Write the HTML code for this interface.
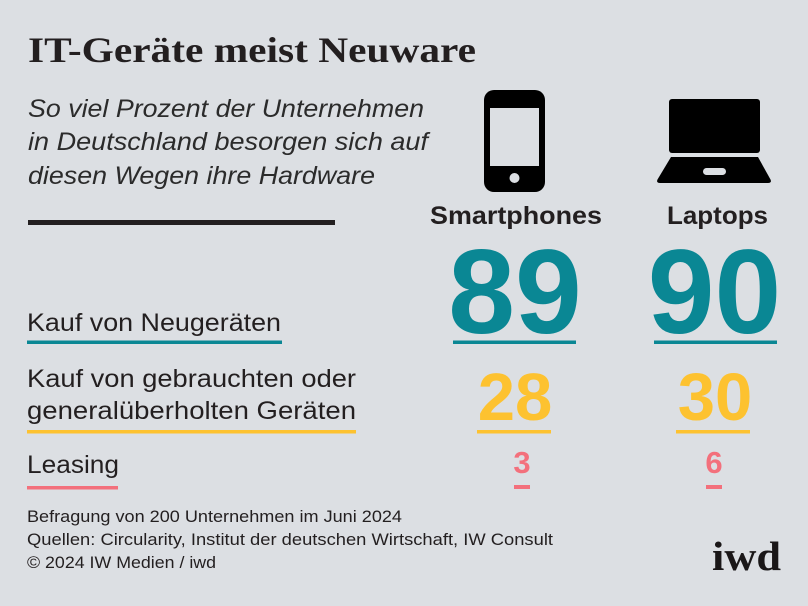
<!DOCTYPE html>
<html>
<head>
<meta charset="utf-8">
<style>
html,body{margin:0;padding:0;background:#dcdfe3;}
svg{display:block;}
</style>
</head>
<body>
<svg width="808" height="606" viewBox="0 0 808 606" xmlns="http://www.w3.org/2000/svg">
<rect x="0" y="0" width="808" height="606" fill="#dcdfe3"/>

<!-- Title -->
<text x="28" y="62" font-family="Liberation Serif, serif" font-weight="bold" font-size="36" fill="#231f20" textLength="448" lengthAdjust="spacingAndGlyphs">IT-Geräte meist Neuware</text>

<!-- Subtitle -->
<g font-family="Liberation Sans, sans-serif" font-style="italic" font-size="25" fill="#2b2b2b">
<text x="28" y="117" textLength="396" lengthAdjust="spacingAndGlyphs">So viel Prozent der Unternehmen</text>
<text x="28" y="150" textLength="400" lengthAdjust="spacingAndGlyphs">in Deutschland besorgen sich auf</text>
<text x="28" y="184" textLength="347" lengthAdjust="spacingAndGlyphs">diesen Wegen ihre Hardware</text>
</g>

<!-- Black rule -->
<rect x="28" y="220" width="307" height="5" fill="#231f20"/>

<!-- Phone icon -->
<rect x="484" y="90" width="61" height="102" rx="10" ry="10" fill="#000"/>
<rect x="490" y="108" width="49" height="58" fill="#dcdfe3"/>
<circle cx="514.5" cy="178" r="5" fill="#dcdfe3"/>

<!-- Laptop icon -->
<rect x="669" y="99" width="91" height="54" rx="3" ry="3" fill="#000"/>
<path d="M671,157 L758,157 L770.5,179.5 Q772,183 768,183 L660,183 Q656,183 657.5,179.5 Z" fill="#000"/>
<rect x="703" y="168" width="23" height="7" rx="3.5" ry="3.5" fill="#dcdfe3"/>

<!-- Column headers -->
<g font-family="Liberation Sans, sans-serif" font-weight="bold" font-size="25" fill="#231f20">
<text x="430" y="224" textLength="172" lengthAdjust="spacingAndGlyphs">Smartphones</text>
<text x="667" y="224" textLength="101" lengthAdjust="spacingAndGlyphs">Laptops</text>
</g>

<!-- Row labels -->
<g font-family="Liberation Sans, sans-serif" font-size="25" fill="#231f20">
<text x="27" y="331" textLength="254" lengthAdjust="spacingAndGlyphs">Kauf von Neugeräten</text>
<text x="27" y="387" textLength="329" lengthAdjust="spacingAndGlyphs">Kauf von gebrauchten oder</text>
<text x="27" y="419" textLength="329" lengthAdjust="spacingAndGlyphs">generalüberholten Geräten</text>
<text x="27" y="473" textLength="92" lengthAdjust="spacingAndGlyphs">Leasing</text>
</g>

<!-- Row underlines -->
<rect x="27" y="340.5" width="255" height="3.5" fill="#0a8794"/>
<rect x="27" y="430" width="329" height="3.5" fill="#fdc230"/>
<rect x="27" y="486" width="91" height="3.5" fill="#f3707c"/>

<!-- Numbers: new -->
<g font-family="Liberation Sans, sans-serif" font-weight="bold" fill="#0a8794" text-anchor="middle">
<text x="515" y="333" font-size="120">89</text>
<text x="714.5" y="333" font-size="120">90</text>
</g>
<rect x="453" y="340.5" width="123" height="3.5" fill="#0a8794"/>
<rect x="654" y="340.5" width="123" height="3.5" fill="#0a8794"/>

<!-- Numbers: used -->
<g font-family="Liberation Sans, sans-serif" font-weight="bold" fill="#fdc230" text-anchor="middle">
<text x="515" y="420" font-size="67">28</text>
<text x="715" y="420" font-size="67">30</text>
</g>
<rect x="477" y="430" width="74" height="3.5" fill="#fdc230"/>
<rect x="676" y="430" width="74" height="3.5" fill="#fdc230"/>

<!-- Numbers: leasing -->
<g font-family="Liberation Sans, sans-serif" font-weight="bold" fill="#f3707c" text-anchor="middle">
<text x="522" y="473" font-size="31">3</text>
<text x="714" y="473" font-size="31">6</text>
</g>
<rect x="514" y="485" width="16" height="4" fill="#f3707c"/>
<rect x="706" y="485" width="16" height="4" fill="#f3707c"/>

<!-- Footer -->
<g font-family="Liberation Sans, sans-serif" font-size="17" fill="#231f20">
<text x="27" y="522" textLength="375" lengthAdjust="spacingAndGlyphs">Befragung von 200 Unternehmen im Juni 2024</text>
<text x="27" y="545" textLength="526" lengthAdjust="spacingAndGlyphs">Quellen: Circularity, Institut der deutschen Wirtschaft, IW Consult</text>
<text x="27" y="568" textLength="189" lengthAdjust="spacingAndGlyphs">© 2024 IW Medien / iwd</text>
</g>

<!-- Logo -->
<text x="712" y="570" font-family="Liberation Serif, serif" font-weight="bold" font-size="41" fill="#1a1718" textLength="69" lengthAdjust="spacingAndGlyphs">iwd</text>
</svg>
</body>
</html>
